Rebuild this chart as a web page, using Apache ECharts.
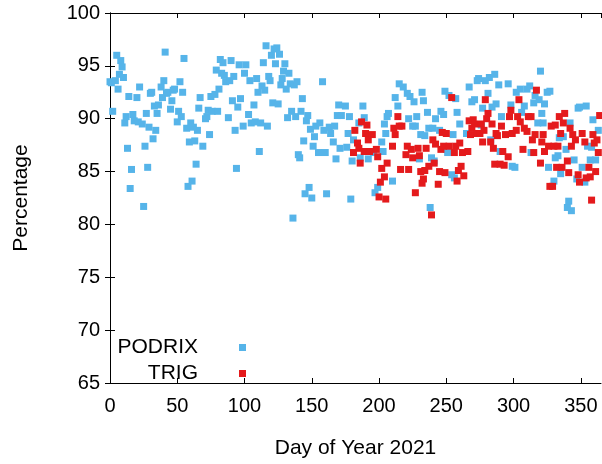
<!DOCTYPE html>
<html>
<head>
<meta charset="utf-8">
<script src="https://cdn.jsdelivr.net/npm/echarts@6/dist/echarts.min.js"></script>
<style>
  html, body { margin: 0; padding: 0; background: #fff; }
  #chart { width: 602px; height: 464px; }
</style>
</head>
<body>
<div id="chart"></div>
<script>
// Daily percentages, 2021 (day of year → %)
const podrixDay = [0,1,2,4,5,6,7,8,9,10,11,12,13,14,15,16,17,18,20,21,22,24,25,26,27,28,29,30,31,32,33,34,35,36,38,39,40,41,42,43,45,46,47,48,50,51,52,53,54,55,57,58,59,60,61,62,63,64,65,66,67,69,71,72,73,74,75,76,78,79,80,81,82,83,84,85,86,88,89,90,91,92,93,94,95,96,97,99,100,101,103,104,105,107,108,109,110,111,112,113,114,115,116,117,118,119,120,121,122,123,124,125,126,127,128,129,130,131,132,133,134,135,136,137,138,139,140,141,142,143,144,145,146,147,148,149,150,151,152,153,155,156,158,159,160,161,163,164,166,167,168,169,170,171,172,175,176,177,178,179,180,181,185,186,188,189,192,196,197,199,202,203,204,205,206,207,210,212,214,215,218,221,222,223,225,226,227,228,230,231,232,233,234,236,237,238,239,240,241,242,245,246,248,249,250,251,252,254,255,256,257,258,260,265,267,269,271,273,274,276,277,279,281,282,283,284,286,287,289,290,291,296,298,299,301,302,305,306,308,310,312,313,315,316,318,319,320,321,322,323,325,326,327,330,331,333,334,335,337,339,340,341,342,343,345,347,348,349,351,353,354,355,357,358,359,361,363];
const podrixPct = [93.5,93.4,90.7,93.6,96.0,92.8,94.2,95.5,94.9,93.9,89.6,90.2,87.2,92.1,83.4,85.2,90.4,89.8,92.0,89.7,93.0,89.5,81.7,87.4,90.5,85.4,89.2,92.4,92.5,88.1,91.2,88.9,90.5,91.3,93.0,92.0,93.6,96.3,92.4,92.5,90.9,91.7,92.7,92.8,89.7,90.7,93.5,90.2,92.5,95.7,89.1,83.6,87.8,89.6,84.1,89.2,87.9,85.7,88.9,91.0,92.0,87.4,90.0,90.2,90.8,88.5,92.1,90.7,92.3,94.6,90.7,92.8,95.6,94.3,95.3,94.1,93.5,90.1,93.6,95.5,91.7,94.0,88.9,85.3,91.1,95.1,91.9,89.3,94.3,95.1,90.4,93.6,89.6,91.3,89.7,93.8,92.5,86.9,89.6,93.1,95.3,92.7,96.9,89.3,94.0,93.6,96.0,91.5,96.6,95.2,96.7,91.4,96.1,93.2,93.8,94.5,95.2,92.8,90.1,94.3,93.3,90.7,80.6,93.2,90.2,93.5,86.6,86.3,90.7,91.9,87.9,82.9,89.8,90.3,83.5,89.0,82.5,87.4,88.3,89.3,86.8,89.6,93.5,88.9,86.8,82.9,89.2,88.6,87.8,89.3,86.2,90.3,91.3,87.2,90.3,91.2,87.3,88.6,90.2,82.4,86.0,88.0,89.6,86.3,91.2,90.1,86.2,86.8,83.0,83.5,87.8,86.9,89.5,88.6,90.2,90.5,84.1,92.0,91.2,93.3,93.0,92.4,90.0,92.1,89.3,91.6,89.3,90.2,86.2,88.5,92.5,91.7,88.4,90.6,89.1,81.6,86.3,89.1,86.0,90.0,88.9,90.7,90.4,92.6,87.1,86.8,92.2,84.7,88.5,84.4,91.9,90.6,89.5,88.6,93.0,91.6,91.8,93.6,93.8,89.4,91.0,93.6,92.4,93.9,88.0,91.1,94.2,91.4,93.2,86.9,90.2,93.3,91.3,85.5,85.4,92.5,92.8,90.6,91.2,92.8,93.1,86.8,91.5,92.2,89.6,91.8,94.5,90.5,89.6,91.4,92.5,85.4,92.6,84.1,86.3,86.5,88.2,84.8,88.3,87.1,81.6,82.2,89.6,81.3,86.1,84.3,91.0,91.1,85.4,84.0,91.2,87.4,86.1,87.3,89.9,86.1,88.9];

const trigDay = [181,182,184,185,186,187,189,190,191,192,193,195,198,199,200,201,202,204,205,206,210,211,212,214,215,216,217,220,221,222,224,225,227,229,230,231,232,233,234,235,237,239,240,241,242,244,245,246,247,248,249,250,252,254,256,257,258,259,260,261,262,263,266,267,268,269,270,271,273,275,276,277,278,279,280,281,283,284,285,286,287,288,290,291,292,293,294,296,297,298,299,302,303,304,305,307,308,310,311,313,314,315,316,317,320,321,322,323,326,327,328,329,330,331,332,333,334,335,336,337,338,340,341,342,343,344,346,348,349,351,353,354,356,357,358,359,360,361,362,363,364];
const trigPct = [86.8,88.9,87.7,87.2,85.8,89.7,86.9,88.6,89.4,88.0,86.9,88.5,87.1,86.4,82.6,84.0,85.3,84.5,82.4,85.8,87.4,89.1,88.5,90.2,89.3,85.2,89.3,86.6,87.4,85.2,87.1,86.3,83.0,87.2,86.5,85.0,83.9,84.3,85.1,87.2,85.5,80.9,88.0,85.8,87.6,83.8,85.0,87.1,88.7,87.4,84.9,88.6,87.4,92.0,86.8,87.4,84.1,85.1,87.7,85.5,86.8,84.6,86.9,89.8,88.5,89.1,89.9,89.5,88.6,88.6,89.5,87.8,88.9,91.8,90.0,90.5,87.8,89.5,87.2,85.7,88.6,88.4,85.7,89.3,86.9,85.6,88.5,86.4,90.2,90.8,88.6,88.9,90.2,91.8,89.7,87.1,89.1,88.8,90.2,90.2,88.0,86.8,88.5,92.7,85.8,87.8,88.5,86.9,87.4,83.6,89.3,83.6,87.4,89.4,85.4,87.4,90.2,88.6,85.4,89.6,90.5,86.0,84.9,89.1,87.4,88.5,88.0,84.7,84.0,88.6,87.8,84.4,85.4,84.5,82.3,88.5,87.7,85.0,88.0,86.8,90.3];

const xTicks = { min: 0, max: 365, step: 50 };
const yTicks = { min: 65, max: 100, step: 5 };

const BLUE = '#56b4e9';
const RED = '#e41a1c';
const FONT = 'Liberation Sans, Arial, sans-serif';

const pairs = (xs, ys) => xs.map((x, i) => [x, ys[i]]);

const chart = echarts.init(document.getElementById('chart'), null, { renderer: 'canvas' });

const frameLine = { show: true, lineStyle: { color: '#000', width: 1 } };
const inTick = { show: true, inside: true, length: 5, lineStyle: { color: '#000', width: 1 } };

chart.setOption({
  animation: false,
  backgroundColor: '#fff',
  grid: { left: 110, right: 1, top: 13, bottom: 76, containLabel: false },
  legend: {
    orient: 'vertical',
    align: 'right',
    right: 356,
    top: 337,
    padding: 0,
    itemGap: 5,
    itemWidth: 7,
    itemHeight: 7,
    icon: 'rect',
    textStyle: { fontFamily: FONT, fontSize: 21, color: '#000', padding: [0, 36, 0, 0] },
    data: ['PODRIX', 'TRIG']
  },
  xAxis: [
    {
      type: 'value', position: 'bottom',
      min: xTicks.min, max: xTicks.max, interval: xTicks.step,
      name: 'Day of Year 2021', nameLocation: 'middle', nameGap: 55,
      nameTextStyle: { fontFamily: FONT, fontSize: 21, color: '#000' },
      axisLine: frameLine, axisTick: inTick,
      axisLabel: { fontFamily: FONT, fontSize: 20, color: '#000', margin: 13, showMaxLabel: false },
      splitLine: { show: false }
    },
    {
      type: 'value', position: 'top',
      min: xTicks.min, max: xTicks.max, interval: xTicks.step,
      axisLine: frameLine, axisTick: inTick,
      axisLabel: { show: false }, splitLine: { show: false }
    }
  ],
  yAxis: [
    {
      type: 'value', position: 'left',
      min: yTicks.min, max: yTicks.max, interval: yTicks.step,
      name: 'Percentage', nameLocation: 'middle', nameGap: 78, nameRotate: 90,
      nameTextStyle: { fontFamily: FONT, fontSize: 21, color: '#000' },
      axisLine: frameLine, axisTick: inTick,
      axisLabel: { fontFamily: FONT, fontSize: 20, color: '#000', margin: 10 },
      splitLine: { show: false }
    },
    {
      type: 'value', position: 'right',
      min: yTicks.min, max: yTicks.max, interval: yTicks.step,
      axisLine: frameLine, axisTick: inTick,
      axisLabel: { show: false }, splitLine: { show: false }
    }
  ],
  series: [
    {
      name: 'PODRIX', type: 'scatter', xAxisIndex: 0, yAxisIndex: 0,
      symbol: 'rect', symbolSize: 7,
      itemStyle: { color: BLUE, opacity: 1 },
      data: pairs(podrixDay, podrixPct), z: 2
    },
    {
      name: 'TRIG', type: 'scatter', xAxisIndex: 0, yAxisIndex: 0,
      symbol: 'rect', symbolSize: 7,
      itemStyle: { color: RED, opacity: 1 },
      data: pairs(trigDay, trigPct), z: 3
    }
  ]
});
</script>
</body>
</html>
